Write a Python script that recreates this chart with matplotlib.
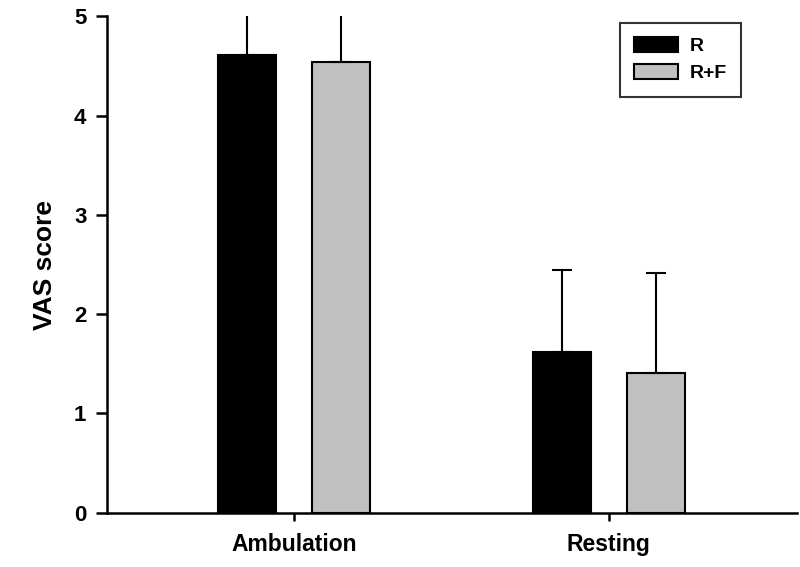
import matplotlib.pyplot as plt
import numpy as np

plt.rcParams['font.family'] = ['Liberation Sans', 'DejaVu Sans']

categories = ['Ambulation', 'Resting']
r_means = [4.61, 1.62]
r_err = [1.0, 0.82]
rf_means = [4.54, 1.41]
rf_err = [1.0, 1.0]

x = np.arange(len(categories))
width = 0.184
offset = 0.149

fig = plt.figure(figsize=(8, 5.67), dpi=100)
ax = fig.add_axes([0.134, 0.096, 0.862, 0.875])

err_kw = dict(elinewidth=1.5, capsize=7, capthick=1.5, ecolor='black')
ax.bar(x - offset, r_means, width, color='black', edgecolor='black', linewidth=1.5,
       yerr=[np.zeros(len(r_err)), r_err], error_kw=err_kw, label='R')
ax.bar(x + offset, rf_means, width, color='#c0c0c0', edgecolor='black', linewidth=1.5,
       yerr=[np.zeros(len(rf_err)), rf_err], error_kw=err_kw, label='R+F')

ax.set_xlim(-0.594, 1.597)
ax.set_ylim(0, 5)
ax.set_yticks([0, 1, 2, 3, 4, 5])
ax.set_xticks(x)
ax.set_xticklabels(categories, fontsize=16.5, fontweight='bold')
for lab in ax.get_yticklabels():
    lab.set_fontsize(16)
    lab.set_fontweight('bold')
ax.set_ylabel('VAS score', fontsize=19, fontweight='bold', labelpad=12)

ax.spines['top'].set_visible(False)
ax.spines['right'].set_visible(False)
ax.spines['left'].set_linewidth(1.8)
ax.spines['bottom'].set_linewidth(1.8)
ax.tick_params(axis='y', direction='out', length=8, width=1.8, pad=7)
ax.tick_params(axis='x', direction='out', length=6, width=1.8, pad=9)

leg = ax.legend(loc='upper left', bbox_to_anchor=(0.743, 0.987),
                prop={'weight': 'bold', 'size': 14}, frameon=True, fancybox=False,
                edgecolor='black', handlelength=2.27, handleheight=0.77,
                borderpad=0.75, labelspacing=0.45, handletextpad=0.57,
                borderaxespad=0)
leg.get_frame().set_linewidth(1.5)

fig.savefig('out.png', dpi=100)
